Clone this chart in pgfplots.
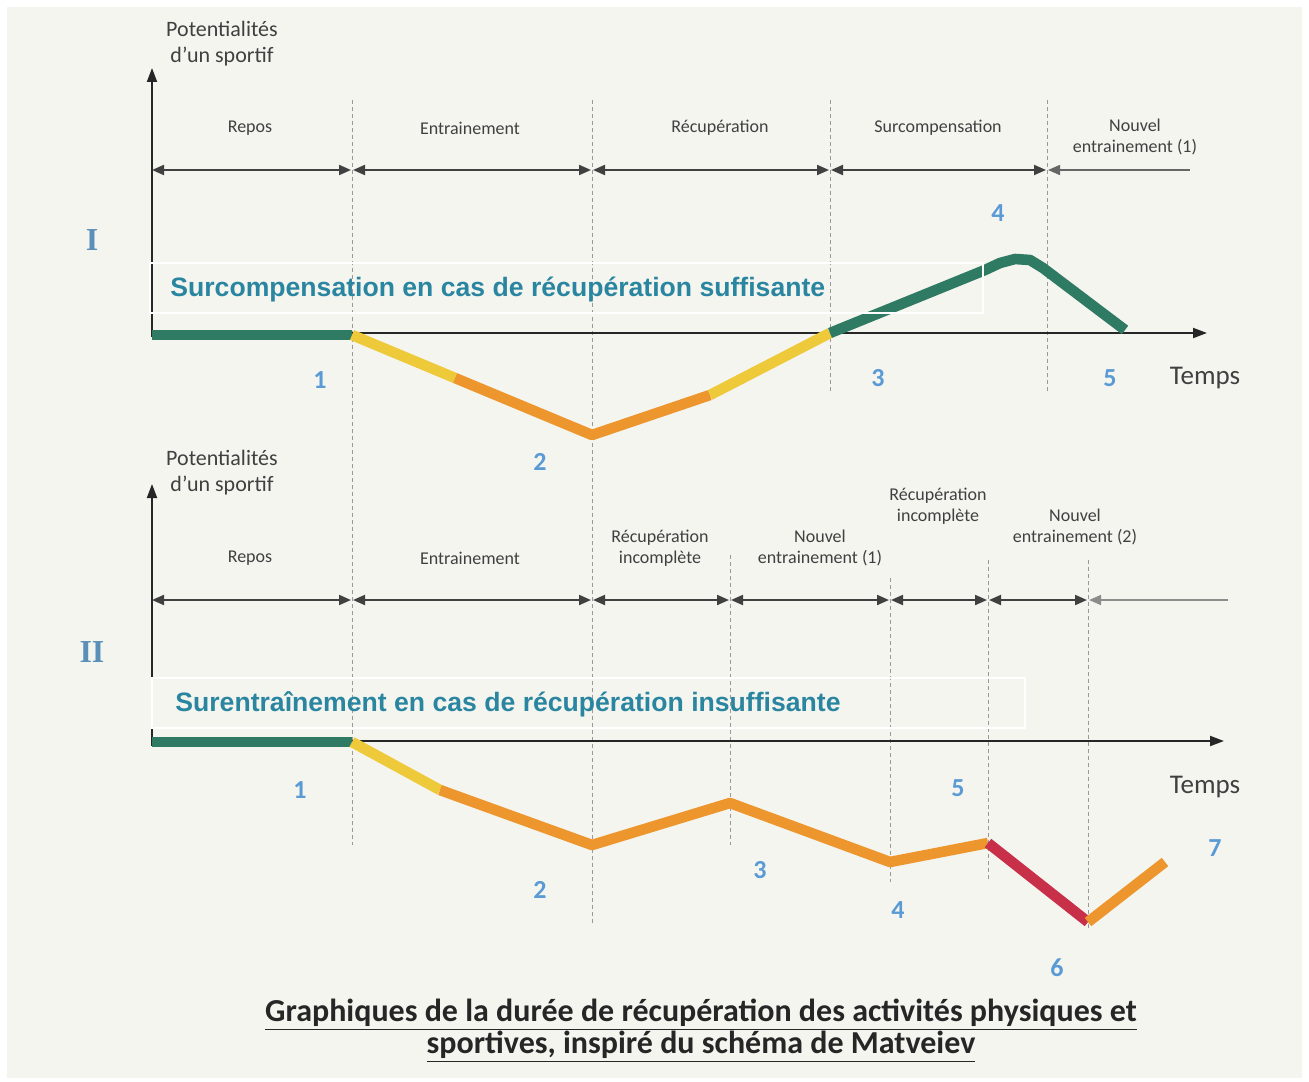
\documentclass[border=0pt]{standalone}
\usepackage{pgfplots}
\pgfplotsset{compat=1.18}
\usetikzlibrary{arrows.meta}
\usepackage{fontspec}
\setmainfont{Carlito}
\newfontfamily\arialf{Liberation Sans}
\newfontfamily\seriff{Liberation Serif}
\definecolor{bg}{HTML}{F5F5F0}
\definecolor{cgreen}{HTML}{2E7A62}
\definecolor{cyellow}{HTML}{EEC93A}
\definecolor{corange}{HTML}{EE962E}
\definecolor{cred}{HTML}{C8304A}
\definecolor{cteal}{HTML}{2A86A0}
\definecolor{cnum}{HTML}{5B9BD5}
\definecolor{croman}{HTML}{5A8FB8}
\definecolor{ctext}{HTML}{404040}
\tikzset{
  sep/.style={gray!80, line width=0.5pt, dash pattern=on 2pt off 1.5pt},
  ph/.style={black!75, line width=1pt, {Triangle[length=6pt,width=5pt]}-{Triangle[length=6pt,width=5pt]}},
  crv/.style={line width=5.3pt},
  lab/.style={font=\fontsize{9}{10.5}\selectfont, text=ctext, align=center, inner sep=0pt},
  ylab/.style={font=\fontsize{11}{13}\selectfont, text=ctext, align=center, inner sep=0pt},
  num/.style={font=\bfseries\fontsize{13}{15}\selectfont, text=cnum}
}
\begin{document}
\begin{tikzpicture}
\begin{axis}[width=654.5pt,height=540.5pt,scale only axis,
  xmin=0,xmax=1309,ymin=0,ymax=1081,y dir=reverse,
  hide axis, clip=false,
  every axis plot/.append style={line join=round}]
% background
\fill[white] (axis cs:0,0) rectangle (axis cs:1309,1081);
\fill[bg] (axis cs:7,7) rectangle (axis cs:1302,1078);
% ---------- dashed separators ----------
\addplot[sep] coordinates {(352,100) (352,845)};
\addplot[sep] coordinates {(592,100) (592,925)};
\addplot[sep] coordinates {(830,100) (830,392)};
\addplot[sep] coordinates {(1047,100) (1047,392)};
\addplot[sep] coordinates {(730,555) (730,845)};
\addplot[sep] coordinates {(890,578) (890,882)};
\addplot[sep] coordinates {(988,560) (988,882)};
\addplot[sep] coordinates {(1088,560) (1088,930)};
% ---------- Panel I axes ----------
\addplot[black!85, line width=1pt, -{Triangle[length=7pt,width=5pt]}] coordinates {(152,337) (152,68)};
\addplot[black!85, line width=1pt, -{Triangle[length=7pt,width=5pt]}] coordinates {(152,333) (1207,333)};
% phase arrows I
\addplot[ph] coordinates {(152,170) (351,170)};
\addplot[ph] coordinates {(353,170) (591,170)};
\addplot[ph] coordinates {(593,170) (829,170)};
\addplot[ph] coordinates {(831,170) (1046,170)};
\addplot[black!60, line width=0.8pt, {Triangle[length=6pt,width=5pt]}-] coordinates {(1048,170) (1190,170)};
% curve I
\addplot[crv, cgreen, line cap=butt] coordinates {(152,335) (352,335)};
\addplot[crv, cyellow] coordinates {(352,335) (455,378)};
\addplot[crv, corange] coordinates {(455,378) (592,435) (710,395)};
\addplot[crv, cyellow] coordinates {(710,395) (830,333)};
\addplot[crv, cgreen] coordinates {(830,333) (985,270) (1000,263) (1015,259) (1030,260) (1043,268) (1125,330)};
% ---------- Panel II axes ----------
\addplot[black!85, line width=1pt, -{Triangle[length=7pt,width=5pt]}] coordinates {(152,746) (152,484)};
\addplot[black!85, line width=1pt, -{Triangle[length=7pt,width=5pt]}] coordinates {(152,741) (1224,741)};
% phase arrows II
\addplot[ph] coordinates {(152,600) (351,600)};
\addplot[ph] coordinates {(353,600) (591,600)};
\addplot[ph] coordinates {(593,600) (729,600)};
\addplot[ph] coordinates {(731,600) (889,600)};
\addplot[ph] coordinates {(891,600) (987,600)};
\addplot[ph] coordinates {(989,600) (1087,600)};
\addplot[black!45, line width=0.8pt, {Triangle[length=6pt,width=5pt]}-] coordinates {(1089,600) (1228,600)};
% curve II
\addplot[crv, cgreen, line cap=butt] coordinates {(152,742) (352,742)};
\addplot[crv, cyellow] coordinates {(352,742) (440,790)};
\addplot[crv, corange] coordinates {(440,790) (592,845) (730,803) (890,862) (988,843)};
\addplot[crv, cred] coordinates {(988,843) (1088,922)};
\addplot[crv, corange] coordinates {(1088,922) (1165,862)};
% ---------- text boxes ----------
\draw[white, line width=1pt] (axis cs:150,263) rectangle (axis cs:983,313);
\node[anchor=west, font=\arialf\bfseries\fontsize{13.3}{15}\selectfont, text=cteal, inner sep=0pt] at (axis cs:170,290) {Surcompensation en cas de récupération suffisante};
\draw[white, line width=1pt] (axis cs:152,678) rectangle (axis cs:1025,728);
\node[anchor=west, font=\arialf\bfseries\fontsize{13.3}{15}\selectfont, text=cteal, inner sep=0pt] at (axis cs:175,704) {Surentraînement en cas de récupération insuffisante};
% ---------- small labels ----------
\node[ylab] at (axis cs:222,44) {Potentialités\\d'un sportif};
\node[lab] at (axis cs:250,128) {Repos};
\node[lab] at (axis cs:470,128) {Entrainement};
\node[lab] at (axis cs:720,128) {Récupération};
\node[lab] at (axis cs:938,128) {Surcompensation};
\node[lab] at (axis cs:1135,137) {Nouvel\\entrainement (1)};
\node[ylab] at (axis cs:222,473) {Potentialités\\d'un sportif};
\node[lab] at (axis cs:250,558) {Repos};
\node[lab] at (axis cs:470,558) {Entrainement};
\node[lab] at (axis cs:660,548) {Récupération\\incomplète};
\node[lab] at (axis cs:820,548) {Nouvel\\entrainement (1)};
\node[lab] at (axis cs:938,506) {Récupération\\incomplète};
\node[lab] at (axis cs:1075,527) {Nouvel\\entrainement (2)};
\node[font=\fontsize{13.5}{15}\selectfont, text=ctext] at (axis cs:1205,378) {Temps};
\node[font=\fontsize{13.5}{15}\selectfont, text=ctext] at (axis cs:1205,787) {Temps};
% ---------- numbers ----------
\node[num] at (axis cs:320,380) {1};
\node[num] at (axis cs:540,462) {2};
\node[num] at (axis cs:878,378) {3};
\node[num] at (axis cs:998,213) {4};
\node[num] at (axis cs:1110,378) {5};
\node[num] at (axis cs:300,790) {1};
\node[num] at (axis cs:540,890) {2};
\node[num] at (axis cs:760,870) {3};
\node[num] at (axis cs:898,910) {4};
\node[num] at (axis cs:958,788) {5};
\node[num] at (axis cs:1057,968) {6};
\node[num] at (axis cs:1215,848) {7};
\node[font=\seriff\bfseries\fontsize{16}{18}\selectfont, text=croman] at (axis cs:92,240) {I};
\node[font=\seriff\bfseries\fontsize{16}{18}\selectfont, text=croman] at (axis cs:92,652) {II};
% ---------- caption ----------
\node[font=\bfseries\fontsize{16}{18}\selectfont, text=black!85] at (axis cs:701,1015) {\underline{Graphiques de la durée de récupération des activités physiques et}};
\node[font=\bfseries\fontsize{16}{18}\selectfont, text=black!85] at (axis cs:701,1047) {\underline{sportives, inspiré du schéma de Matveiev}};
\end{axis}
\end{tikzpicture}
\end{document}
